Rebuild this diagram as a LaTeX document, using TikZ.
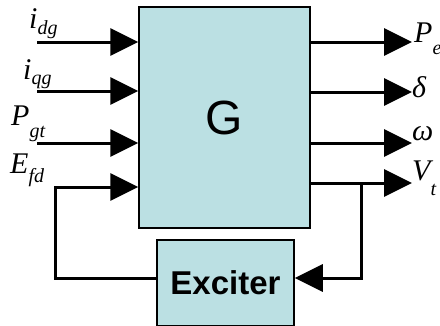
\documentclass[tikz,border=0pt]{standalone}
\usepackage{fontspec}
\setmainfont{Liberation Serif}
\newfontfamily\arialf{Liberation Sans}
\usetikzlibrary{arrows.meta}
\definecolor{boxblue}{RGB}{187,224,227}
\newcommand{\sbs}[2][-7pt]{\raisebox{#1}{\fontsize{20}{20}\selectfont #2}}
\begin{document}
\begin{tikzpicture}[x=1pt,y=-1pt,
  blk/.style={draw=black, line width=1.5pt, fill=boxblue, inner sep=0},
  sig/.style={line width=3pt, -{Triangle[length=28pt,width=27pt]}},
  wire/.style={line width=3pt},
  lab/.style={inner sep=0, anchor=base west, font=\fontsize{30}{30}\selectfont\itshape}]
\useasboundingbox (0,0) rectangle (440,325);
\node[blk, minimum width=171pt, minimum height=221pt, font=\arialf\fontsize{48}{48}\selectfont] (G) at (224.5,117.5) {G};
\node[blk, minimum width=137pt, minimum height=86pt, font=\arialf\bfseries\fontsize{33}{33}\selectfont] (exc) at (225.5,283) {Exciter};
% inputs
\coordinate (i1) at (37,42);
\coordinate (i2) at (37,91);
\coordinate (i3) at (37,143);
\coordinate (e1) at (55,187);
\coordinate (e0) at (55,278);
\draw[sig] (i1) -- (G.west |- i1);
\draw[sig] (i2) -- (G.west |- i2);
\draw[sig] (i3) -- (G.west |- i3);
\draw[sig] (exc.west |- e0) -- (e0) -- (e1) -- (G.west |- e1);
% outputs
\coordinate (o1) at (412,42);
\coordinate (o2) at (412,92);
\coordinate (o3) at (412,143);
\coordinate (o4) at (412,183);
\coordinate (br) at (361,183);
\coordinate (fb) at (361,278);
\draw[sig] (G.east |- o1) -- (o1);
\draw[sig] (G.east |- o2) -- (o2);
\draw[sig] (G.east |- o3) -- (o3);
\draw[sig] (G.east |- o4) -- (o4);
\draw[sig] (br) -- (fb) -- (exc.east |- fb);
% labels
\node[lab] (lidg) at (29,28) {i\sbs[-6pt]{dg}};
\node[lab] (liqg) at (23,79) {i\sbs[-5pt]{qg}};
\node[lab] (lpgt) at (11,125) {P\sbs[-12pt]{gt}};
\node[lab] (lefd) at (10,173) {E\sbs[-9pt]{fd}};
\node[lab] (lpe) at (414,42) {P\sbs[-12pt]{e}};
\node[lab] (ld) at (412,97) {δ};
\node[lab] (lw) at (412,140) {ω};
\node[lab] (lvt) at (412,180) {V\sbs[-15pt]{t}};
\end{tikzpicture}
\end{document}
